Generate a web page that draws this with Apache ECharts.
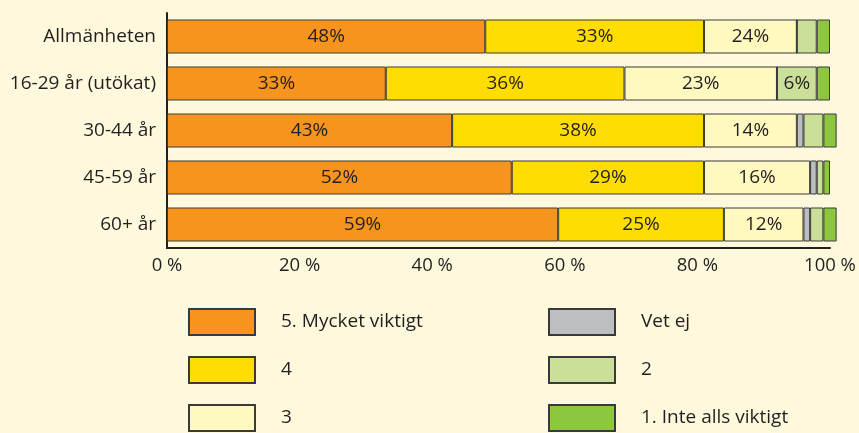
<!DOCTYPE html>
<html>
<head>
<meta charset="utf-8">
<script src="https://cdn.jsdelivr.net/npm/echarts@6/dist/echarts.min.js"></script>
<style>
html,body{margin:0;padding:0;background:#fef8dc;}
#chart{width:859px;height:433px;}
</style>
</head>
<body>
<div id="chart"></div>
<script>
var categories = ['Allmänheten', '16-29 år (utökat)', '30-44 år', '45-59 år', '60+ år'];
var seriesNames = ['5. Mycket viktigt', '4', '3', 'Vet ej', '2', '1. Inte alls viktigt'];
var v5 = [48, 33, 43, 52, 59];
var v4 = [33, 36, 38, 29, 25];
var v3 = [14, 23, 14, 16, 12];
var vVetEj = [0, 0, 1, 1, 1];
var v2 = [3, 6, 3, 1, 2];
var v1 = [2, 2, 2, 1, 2];
var lab5 = ['48%', '33%', '43%', '52%', '59%'];
var lab4 = ['33%', '36%', '38%', '29%', '25%'];
var lab3 = ['24%', '23%', '14%', '16%', '12%'];
var labVetEj = ['', '', '', '', ''];
var lab2 = ['', '6%', '', '', ''];
var lab1 = ['', '', '', '', ''];
var xTicks = [0, 20, 40, 60, 80, 100];

var colors = ['#f7941e', '#ffdd00', '#fff9c0', '#bcbec0', '#cadf97', '#8dc63f'];
var values = [v5, v4, v3, vVetEj, v2, v1];
var labels = [lab5, lab4, lab3, labVetEj, lab2, lab1];
var FONT = 'Open Sans';
var FS = 19;

var series = seriesNames.map(function (name, i) {
  return {
    name: name,
    type: 'bar',
    stack: 'total',
    clip: false,
    barWidth: 34,
    data: values[i],
    itemStyle: { color: colors[i], borderColor: '#3a3a3a', borderWidth: 1 },
    label: {
      show: true,
      position: 'inside',
      color: '#231f20',
      fontFamily: FONT,
      fontSize: FS,
      formatter: function (p) { return labels[i][p.dataIndex]; }
    },
    emphasis: { disabled: true }
  };
});

// legend layout: two columns of three items
var legendLeft = [188, 188, 188, 548, 548, 548];
var legendTop = [308, 356, 404, 308, 356, 404];
var legends = seriesNames.map(function (name, i) {
  return {
    orient: 'horizontal',
    left: legendLeft[i],
    top: legendTop[i],
    padding: 0,
    itemWidth: 66,
    itemHeight: 26,
    icon: 'rect',
    selectedMode: false,
    data: [name],
    textStyle: { fontFamily: FONT, fontSize: FS, color: '#231f20', padding: [0, 0, 0, 21] }
  };
});

var chart = echarts.init(document.getElementById('chart'));
chart.setOption({
  backgroundColor: '#fef8dc',
  animation: false,
  grid: { left: 167, right: 29, top: 13, bottom: 185, containLabel: false },
  legend: legends,
  xAxis: {
    type: 'value',
    min: 0,
    max: 100,
    interval: 20,
    axisLine: { show: true, lineStyle: { color: '#231f20', width: 2 } },
    axisTick: { show: false },
    splitLine: { show: false },
    axisLabel: {
      fontFamily: FONT, fontSize: 18.5, color: '#231f20', margin: 8,
      formatter: function (v) { return xTicks.indexOf(v) >= 0 ? v + ' %' : ''; }
    }
  },
  yAxis: {
    type: 'category',
    inverse: true,
    data: categories,
    axisLine: { show: true, lineStyle: { color: '#231f20', width: 2 } },
    axisTick: { show: false },
    axisLabel: { fontFamily: FONT, fontSize: FS, color: '#231f20', margin: 11 }
  },
  series: series
});
</script>
</body>
</html>
